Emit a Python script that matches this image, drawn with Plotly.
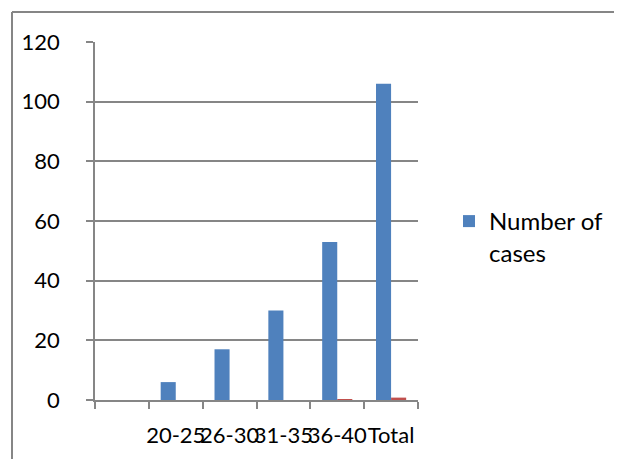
import plotly.graph_objects as go

categories = [" ", "20-25", "26-30", "31-35", "36-40", "Total"]
number_of_cases = [0, 6, 17, 30, 53, 106]
second_series = [0, 0, 0, 0, 0.3, 0.8]
y_ticks = [0, 20, 40, 60, 80, 100, 120]

OFF = 8  # default page body margin
SW, SH = 622, 459
W, H = SW - OFF, SH - OFF
# plot area in screen pixels
X0, X1, Y0, Y1 = 95, 418, 42, 400
ML, MR, MT, MB = X0 - OFF, W - (X1 - OFF), Y0 - OFF, H - (Y1 - OFF)
pw, ph = X1 - X0, Y1 - Y0

def px(x):
    return (x - X0) / pw

def py(y):
    return (Y1 - y) / ph

font = dict(family="Lato, Open Sans, sans-serif", size=22, color="#000000")
lfont = dict(family="Lato, Open Sans, sans-serif", size=24, color="#000000")
gray = "#868686"

fig = go.Figure()
fig.add_trace(go.Bar(x=categories, y=number_of_cases, name="Number of<br>cases",
                     marker=dict(color="#4F81BD", line=dict(width=0))))
fig.add_trace(go.Bar(x=categories, y=second_series, name="",
                     marker=dict(color="#C0504D", line=dict(width=0)), showlegend=False))

fig.update_layout(
    width=W, height=H,
    margin=dict(l=ML, r=MR, t=MT, b=MB, pad=0, autoexpand=False),
    paper_bgcolor="white", plot_bgcolor="white",
    barmode="group", bargap=0.44, bargroupgap=0,
    font=font,
    showlegend=True,
    legend=dict(x=px(449), xanchor="left", y=py(199), yanchor="top",
                valign="top", font=lfont, bgcolor="rgba(0,0,0,0)",
                itemwidth=30),
    xaxis=dict(type="category", tickson="boundaries", ticks="outside", ticklen=7,
               tickcolor=gray, tickwidth=1.5, showline=True, linecolor=gray, linewidth=1.5,
               showgrid=False, tickangle=0, tickfont=font, ticklabelstandoff=15,
               automargin=False),
    yaxis=dict(range=[0, 120], tickvals=y_ticks, ticks="outside", ticklen=7,
               tickcolor=gray, tickwidth=1.5, showline=True, linecolor=gray, linewidth=1.5,
               showgrid=True, gridcolor=gray, gridwidth=1.5, zeroline=False,
               tickfont=font, ticklabelstandoff=22, automargin=False),
    shapes=[
        dict(type="line", xref="paper", yref="paper", x0=px(12), x1=px(12),
             y0=py(12), y1=py(SH + 5), line=dict(color=gray, width=2)),
        dict(type="line", xref="paper", yref="paper", x0=px(12), x1=px(SW + 5),
             y0=py(12), y1=py(12), line=dict(color=gray, width=2)),
    ],
)

fig.write_html("out.html")
